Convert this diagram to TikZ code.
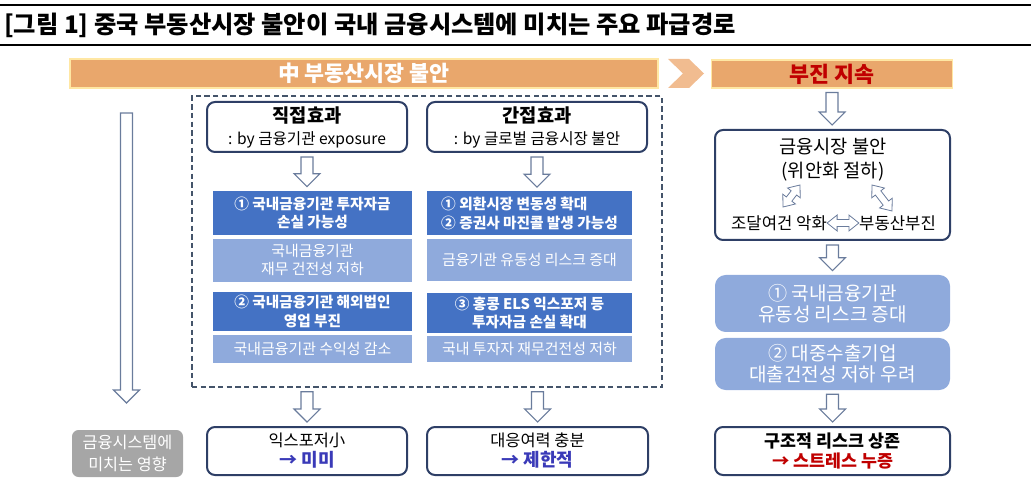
\documentclass[tikz,border=0pt]{standalone}
\usepackage{fontspec}
\setmainfont{Noto Sans CJK KR}
\usetikzlibrary{positioning, calc}
\definecolor{orangebar}{HTML}{E9A76C}
\definecolor{chevron}{HTML}{F1BC90}
\definecolor{barline}{HTML}{FFE7A3}
\definecolor{navyline}{HTML}{2E3F66}
\definecolor{dashline}{HTML}{44546A}
\definecolor{darkblue}{HTML}{4472C4}
\definecolor{lightblue}{HTML}{8FAADC}
\definecolor{arrline}{HTML}{6A7C9C}
\definecolor{textblue}{HTML}{3A3AB8}
\definecolor{textred}{HTML}{C00000}
\definecolor{greybox}{HTML}{A6A6A6}

% hohler Blockpfeil von #1 nach unten bis #2
\newcommand\blockdown[2]{%
  \path #1 coordinate (bdA) #2 coordinate (bdB);
  \draw[blockarr] ($(bdA)+(-6,4)$) -- ($(bdA|-bdB)+(-6,-17)$) -- ($(bdA|-bdB)+(-13,-17)$)
    -- ($(bdA|-bdB)+(0,-4)$) -- ($(bdA|-bdB)+(13,-17)$) -- ($(bdA|-bdB)+(6,-17)$)
    -- ($(bdA)+(6,4)$) -- cycle;
}
% hohler Doppelpfeil zwischen #1 und #2
\newcommand\dblarrow[2]{%
  \path #1 coordinate (daA) #2 coordinate (daB);
  \draw[blockarr, line width=0.6pt] (daA)
    -- ($($(daA)!7.5pt!(daB)$)!6pt!90:(daB)$) -- ($($(daA)!7.5pt!(daB)$)!2.6pt!90:(daB)$)
    -- ($($(daB)!7.5pt!(daA)$)!2.6pt!-90:(daA)$) -- ($($(daB)!7.5pt!(daA)$)!6pt!-90:(daA)$)
    -- (daB)
    -- ($($(daB)!7.5pt!(daA)$)!6pt!90:(daA)$) -- ($($(daB)!7.5pt!(daA)$)!2.6pt!90:(daA)$)
    -- ($($(daA)!7.5pt!(daB)$)!2.6pt!-90:(daB)$) -- ($($(daA)!7.5pt!(daB)$)!6pt!-90:(daB)$)
    -- cycle;
}

\begin{document}
\begin{tikzpicture}[
    x=0.75pt, y=-0.75pt,
    blockarr/.style={draw=arrline, fill=white, line width=0.8pt, line join=miter},
    bar/.style={fill=orangebar, draw=barline, line width=0.8pt, text=white, inner sep=0pt, font={\fontsize{16.3}{19}\selectfont\bfseries}},
    dashbox/.style={draw=dashline, line width=1.1pt, dash pattern=on 4pt off 2.5pt},
    effbox/.style={draw=navyline, line width=1.5pt, rounded corners=6pt, fill=white, align=center, inner sep=0pt, font={\fontsize{11.7}{16.5}\selectfont}},
    resultbox/.style={effbox, font={\fontsize{12.3}{15}\selectfont}},
    darkbox/.style={fill=darkblue, text=white, align=center, inner sep=0pt, font={\fontsize{11}{13.8}\selectfont\bfseries}},
    lightbox/.style={fill=lightblue, text=white, align=center, inner sep=0pt, font={\fontsize{11.2}{13.8}\selectfont}},
    lightround/.style={fill=lightblue, text=white, align=center, inner sep=0pt, rounded corners=8pt, font={\fontsize{14.3}{15.8}\selectfont}},
    greynode/.style={fill=greybox, text=white, align=center, inner sep=0pt, rounded corners=5pt, font={\fontsize{12.2}{16}\selectfont}},
    plaintext/.style={inner sep=0pt, align=center, font={\fontsize{12.5}{18}\selectfont}}
]
\useasboundingbox (0,0) rectangle (1031,484);

% Titel
\draw[line width=2pt] (0,5) -- (1031,5);
\draw[line width=0.8pt] (0,45) -- (1031,45);
\node[anchor=west, inner sep=0pt, font={\fontsize{18.2}{21}\selectfont\bfseries}] (title) at (4,25) {[그림 1] 중국 부동산시장 불안이 국내 금융시스템에 미치는 주요 파급경로};

% --- Kopfleisten ---
\node[bar, minimum width=441pt, minimum height=21.75pt] (cnbar) at (364,73.5) {中 부동산시장 불안};
\fill[chevron] (668,59) -- (689,59) -- (704,73.5) -- (689,88) -- (668,88) -- (683,73.5) -- cycle;
\node[bar, text=textred, minimum width=180.75pt, minimum height=21pt] (slump) at (832,74) {부진 지속};

% --- Mittelteil: direkte und indirekte Effekte ---
\node[dashbox, minimum width=352.5pt, minimum height=218.25pt] (effects) at (427,241.5) {};

\node[effbox, minimum width=150pt, minimum height=37.5pt] (direct) at (307,127) {{\fontsize{14}{16}\selectfont\bfseries 직접효과}\\: by 금융기관 exposure};
\node[effbox, minimum width=165pt, minimum height=37.5pt] (indirect) at (537,127) {{\fontsize{14}{16}\selectfont\bfseries 간접효과}\\: by 글로벌 금융시장 불안};

\node[darkbox, minimum width=149.25pt, minimum height=33pt] (dirA) at (312.5,213) {① 국내금융기관 투자자금\\손실 가능성};
\node[lightbox, minimum width=149.25pt, minimum height=32.25pt, below=2.25pt of dirA] (dirAl) {국내금융기관\\재무 건전성 저하};
\node[darkbox, minimum width=149.25pt, minimum height=29.25pt] (dirB) at (312.5,311.5) {② 국내금융기관 해외법인\\영업 부진};
\node[lightbox, minimum width=149.25pt, minimum height=21pt, below=2.25pt of dirB] (dirBl) {국내금융기관 수익성 감소};

\node[darkbox, align=left, minimum width=153.75pt, minimum height=33pt] (indA) at (529.5,213.5) {① 외환시장 변동성 확대\\② 증권사 마진콜 발생 가능성};
\node[lightbox, minimum width=153.75pt, minimum height=31.5pt, below=2.25pt of indA] (indAl) {금융기관 유동성 리스크 증대};
\node[darkbox, minimum width=153.75pt, minimum height=30pt] (indB) at (529.5,313) {③ 홍콩 ELS 익스포저 등\\투자자금 손실 확대};
\node[lightbox, minimum width=153.75pt, minimum height=19.5pt, below=1.5pt of indB] (indBl) {국내 투자자 재무건전성 저하};

\blockdown{(direct.south)}{(dirA.north)}
\blockdown{(indirect.south)}{(indA.north)}

% Ergebnisse unten
\node[resultbox, minimum width=150pt, minimum height=36pt] (lowA) at (307,451) {익스포저小\\{\color{textblue}\fontsize{13.5}{15}\selectfont\bfseries → 미미}};
\node[resultbox, minimum width=165.75pt, minimum height=36pt] (lowB) at (537.5,451) {대응여력 충분\\{\color{textblue}\fontsize{13.5}{15}\selectfont\bfseries → 제한적}};
\blockdown{(effects.south -| lowA.north)}{(lowA.north)}
\blockdown{(effects.south -| lowB.north)}{(lowB.north)}

% --- Linke Spalte ---
\node[greynode, minimum width=83.25pt, minimum height=35.25pt] (impact) at (127.5,453.5) {금융시스템에\\미치는 영향};
\coordinate (lstart) at (126.5,109);
\coordinate (lend)   at (126.5,407);
\blockdown{(lstart)}{(lend)}

% --- Rechte Spalte ---
\node[effbox, minimum width=176.25pt, minimum height=82.5pt] (market) at (832.5,185) {};
\node[plaintext, font={\fontsize{14}{18}\selectfont}] (unrest) at (833,160) {금융시장 불안\\(위안화 절하)};
\node[plaintext] (fund)   at (779,223) {조달여건 악화};
\node[plaintext] (estate) at (897.5,223) {부동산부진};
\dblarrow{(fund.east)}{(estate.west)}
\coordinate (dlA) at (783,207);
\coordinate (dlB) at (800,185);
\coordinate (drA) at (872,185);
\coordinate (drB) at (892,211);
\dblarrow{(dlA)}{(dlB)}
\dblarrow{(drA)}{(drB)}
\blockdown{(slump.south)}{(market.north)}

\node[lightround, minimum width=176.25pt, minimum height=42.75pt] (liqA) at (832.5,303.5) {① 국내금융기관\\유동성 리스크 증대};
\node[lightround, minimum width=176.25pt, minimum height=39pt] (liqB) at (832.5,364) {② 대중수출기업\\대출건전성 저하 우려};
\blockdown{(market.south)}{(liqA.north)}

\node[resultbox, font={\fontsize{13}{15}\selectfont}, minimum width=176.25pt, minimum height=36pt] (stress) at (832.5,451) {{\bfseries 구조적 리스크 상존}\\{\color{textred}\bfseries → 스트레스 누증}};
\blockdown{(liqB.south)}{(stress.north)}

\end{tikzpicture}
\end{document}
